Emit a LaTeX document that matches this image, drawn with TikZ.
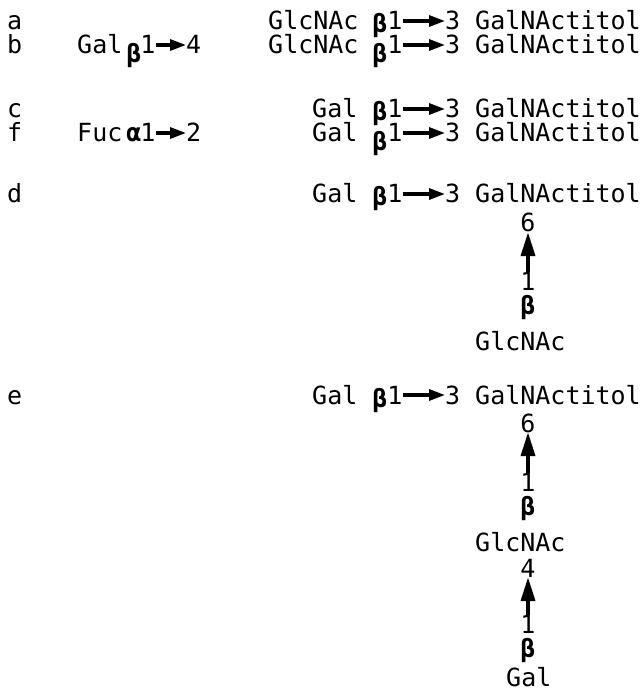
\documentclass[tikz,border=0pt]{standalone}
\usepackage{fontspec}
\newfontfamily\monofam{DejaVu Sans Mono}
\usetikzlibrary{arrows.meta}
\tikzset{
  lbl/.style={inner sep=0pt, text height=18pt, text depth=0pt, anchor=base west,
    font=\monofam\fontsize{25}{25}\selectfont},
  num/.style={inner sep=0pt, text height=18pt, text depth=0pt, anchor=base,
    font=\monofam\fontsize{25}{25}\selectfont},
  grk/.style={inner sep=0pt, text height=18pt, text depth=0pt, anchor=base,
    font=\monofam\bfseries\fontsize{25}{25}\selectfont},
  hlink/.style={line width=3.2pt, -{Triangle[length=16pt,width=11pt]}},
  vlink/.style={line width=3.6pt, -{Triangle[length=24pt,width=14pt]}},
}
\begin{document}
\begin{tikzpicture}[x=1pt,y=-1pt]
\useasboundingbox (0,0) rectangle (641,692);

% a: GlcNAc b1-3 GalNAc-ol
\node[lbl] (aL) at (7,30) {a};
\node[lbl] (aD) at (268,30) {GlcNAc};
\node[grk] (aB) at (380,33) {β};
\node[num] (a1) at (395,30) {1};
\node[lbl] (a3) at (445,30) {3};
\node[lbl] (aA) at (475,30) {GalNActitol};
\draw[hlink] (a1.east) -- (a3.west);

% b: Gal b1-4 GlcNAc b1-3 GalNAc-ol
\node[lbl] (bL) at (7,54) {b};
\node[lbl] (bG) at (77,54) {Gal};
\node[grk] (bB0) at (134,63) {β};
\node[num] (b01) at (148,54) {1};
\node[lbl] (b4) at (186,54) {4};
\node[lbl] (bD) at (268,54) {GlcNAc};
\node[grk] (bB) at (380,63) {β};
\node[num] (b1) at (395,54) {1};
\node[lbl] (b3) at (445,54) {3};
\node[lbl] (bA) at (475,54) {GalNActitol};
\draw[hlink] (b01.east) -- (b4.west);
\draw[hlink] (b1.east) -- (b3.west);

% c: Gal b1-3 GalNAc-ol
\node[lbl] (cL) at (7,118) {c};
\node[lbl] (cD) at (312,118) {Gal};
\node[grk] (cB) at (380,121) {β};
\node[num] (c1) at (395,118) {1};
\node[lbl] (c3) at (445,118) {3};
\node[lbl] (cA) at (475,118) {GalNActitol};
\draw[hlink] (c1.east) -- (c3.west);

% f: Fuc a1-2 Gal b1-3 GalNAc-ol
\node[lbl] (fL) at (7,142) {f};
\node[lbl] (fF) at (77,142) {Fuc};
\node[grk] (fA0) at (134,142) {α};
\node[num] (f01) at (148,142) {1};
\node[lbl] (f2) at (186,142) {2};
\node[lbl] (fD) at (312,142) {Gal};
\node[grk] (fB) at (380,151) {β};
\node[num] (f1) at (395,142) {1};
\node[lbl] (f3) at (445,142) {3};
\node[lbl] (fA) at (475,142) {GalNActitol};
\draw[hlink] (f01.east) -- (f2.west);
\draw[hlink] (f1.east) -- (f3.west);

% d: Gal b1-3 [GlcNAc b1-6] GalNAc-ol
\node[lbl] (dL) at (7,203) {d};
\node[lbl] (dD) at (312,203) {Gal};
\node[grk] (dB) at (380,206) {β};
\node[num] (d1) at (395,203) {1};
\node[lbl] (d3) at (445,203) {3};
\node[lbl] (dA) at (475,203) {GalNActitol};
\draw[hlink] (d1.east) -- (d3.west);
\node[num] (d6) at (528,232) {6};
\node[num] (dv1) at (528,290) {1};
\node[grk] (dvB) at (528,314) {β};
\node[lbl] (dG) at (475,350) {GlcNAc};
\draw[vlink] (dv1.north) -- (d6.south);

% e: Gal b1-3 [Gal b1-4 GlcNAc b1-6] GalNAc-ol
\node[lbl] (eL) at (7,404) {e};
\node[lbl] (eD) at (312,404) {Gal};
\node[grk] (eB) at (380,407) {β};
\node[num] (e1) at (395,404) {1};
\node[lbl] (e3) at (445,404) {3};
\node[lbl] (eA) at (475,404) {GalNActitol};
\draw[hlink] (e1.east) -- (e3.west);
\node[num] (e6) at (528,432) {6};
\node[num] (ev1) at (528,491) {1};
\node[grk] (evB) at (528,515) {β};
\node[lbl] (eG) at (475,551) {GlcNAc};
\node[num] (e4) at (528,577) {4};
\node[num] (ev2) at (528,633) {1};
\node[grk] (evB2) at (528,657) {β};
\node[lbl] (eGal) at (506,686) {Gal};
\draw[vlink] (ev1.north) -- (e6.south);
\draw[vlink] (ev2.north) -- (e4.south);
\end{tikzpicture}
\end{document}
